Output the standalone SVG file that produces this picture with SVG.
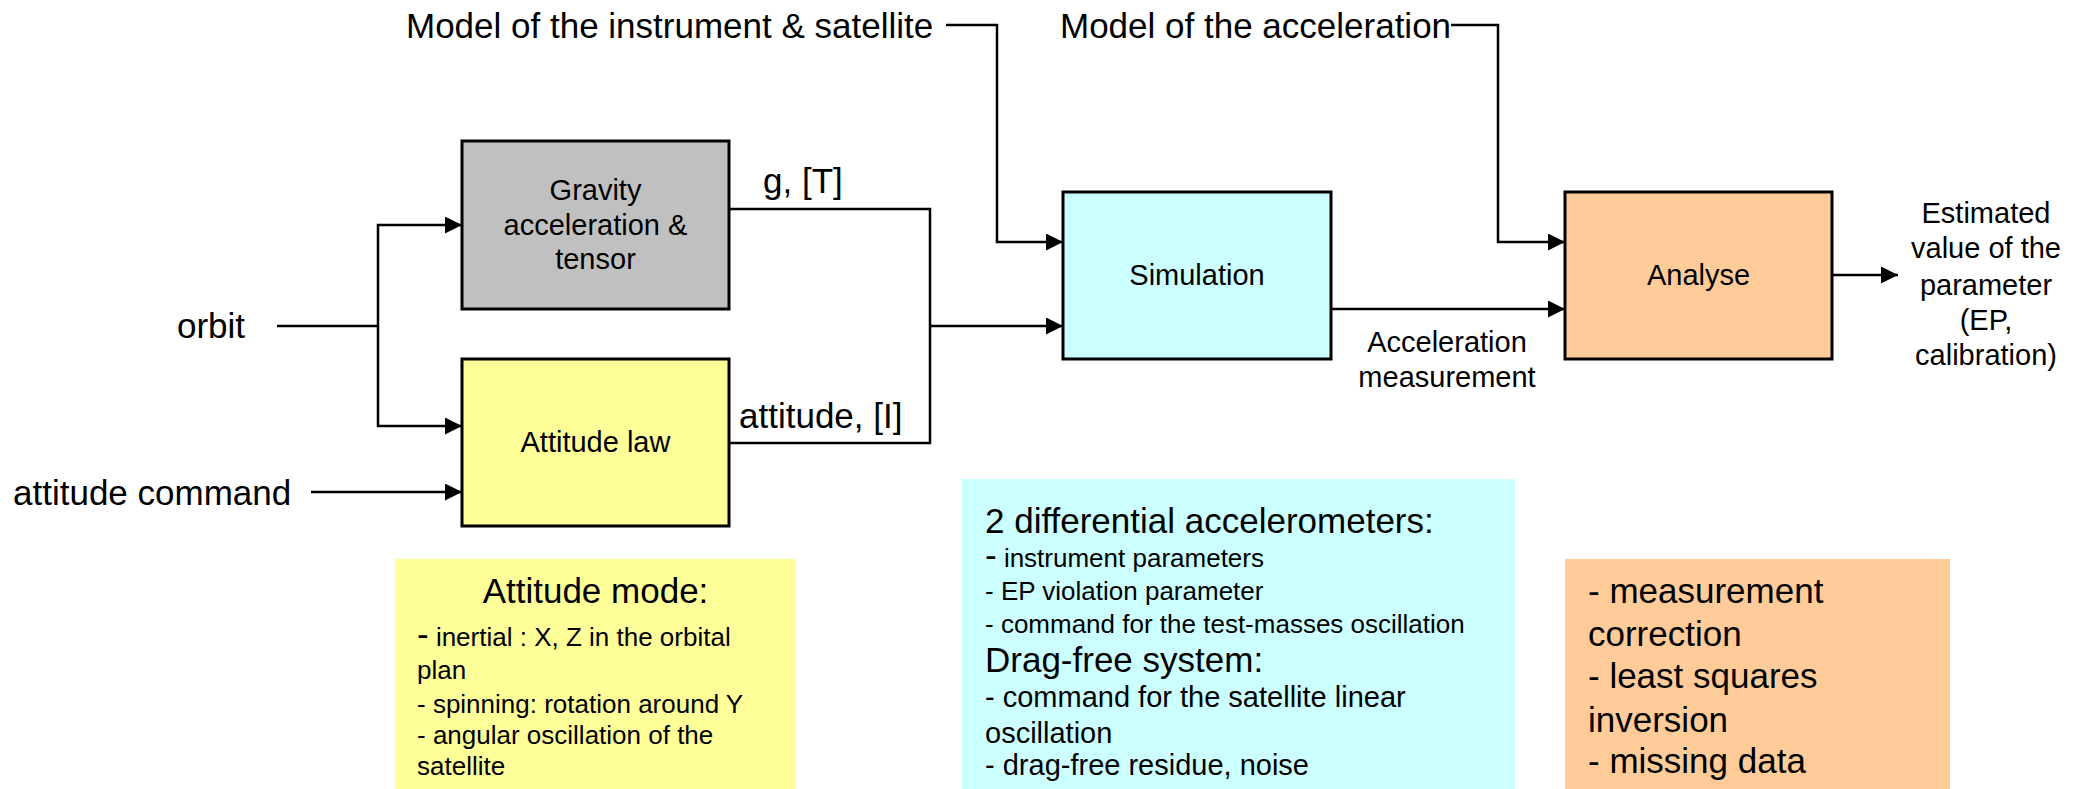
<svg xmlns="http://www.w3.org/2000/svg" width="2087" height="789" viewBox="0 0 2087 789">
<style>
text{font-family:"Liberation Sans",Arial,sans-serif;fill:#000}
.big{font-size:35px}
.mid{font-size:29px}
.sm{font-size:26px}
.box{stroke:#000;stroke-width:3}
.ln{fill:none;stroke:#000;stroke-width:2.5}
</style>
<defs>
<marker id="ah" viewBox="0 0 10 10" refX="10" refY="5" markerWidth="17" markerHeight="17" markerUnits="userSpaceOnUse" orient="auto">
<path d="M0,0 L10,5 L0,10 Z" fill="#000"/>
</marker>
</defs>
<rect width="2087" height="789" fill="#fff"/>

<g id="connectors">
<polyline class="ln" points="277,326 378,326"/>
<polyline class="ln" points="378,326 378,225 462,225" marker-end="url(#ah)"/>
<polyline class="ln" points="378,326 378,426 462,426" marker-end="url(#ah)"/>
<polyline class="ln" points="311,492 462,492" marker-end="url(#ah)"/>
<polyline class="ln" points="729,209 930,209 930,443 729,443"/>
<polyline class="ln" points="930,326 1063,326" marker-end="url(#ah)"/>
<polyline class="ln" points="946,25 997,25 997,242 1063,242" marker-end="url(#ah)"/>
<polyline class="ln" points="1451,25 1498,25 1498,242 1565,242" marker-end="url(#ah)"/>
<polyline class="ln" points="1331,309 1565,309" marker-end="url(#ah)"/>
<polyline class="ln" points="1832,275 1898,275" marker-end="url(#ah)"/>
</g>

<g id="gravity">
<rect class="box" x="462" y="141" width="267" height="168" fill="#C0C0C0"/>
<text class="mid" text-anchor="middle" x="595.5" y="200">Gravity</text>
<text class="mid" text-anchor="middle" x="595.5" y="235">acceleration &amp;</text>
<text class="mid" text-anchor="middle" x="595.5" y="269">tensor</text>
</g>

<g id="attitude-law">
<rect class="box" x="462" y="359" width="267" height="167" fill="#FFFF99"/>
<text class="mid" text-anchor="middle" x="595.5" y="452">Attitude law</text>
</g>

<g id="simulation">
<rect class="box" x="1063" y="192" width="268" height="167" fill="#CCFFFF"/>
<text class="mid" text-anchor="middle" x="1197" y="285">Simulation</text>
</g>

<g id="analyse">
<rect class="box" x="1565" y="192" width="267" height="167" fill="#FFCC99"/>
<text class="mid" text-anchor="middle" x="1698.5" y="285">Analyse</text>
</g>

<g id="labels">
<text class="big" x="406" y="38">Model of the instrument &amp; satellite</text>
<text class="big" x="1060" y="38">Model of the acceleration</text>
<text class="big" x="177" y="338">orbit</text>
<text class="big" x="13" y="505">attitude command</text>
<text class="big" x="763" y="193">g, [T]</text>
<text class="big" x="739" y="428">attitude, [I]</text>
<text class="mid" text-anchor="middle" x="1447" y="352">Acceleration</text>
<text class="mid" text-anchor="middle" x="1447" y="387">measurement</text>
<text class="mid" text-anchor="middle" x="1986" y="223">Estimated</text>
<text class="mid" text-anchor="middle" x="1986" y="258">value of the</text>
<text class="mid" text-anchor="middle" x="1986" y="295">parameter</text>
<text class="mid" text-anchor="middle" x="1986" y="330">(EP,</text>
<text class="mid" text-anchor="middle" x="1986" y="365">calibration)</text>
</g>

<g id="attitude-mode-note">
<rect x="395" y="559" width="401" height="230" fill="#FFFF99"/>
<text class="big" text-anchor="middle" x="595.5" y="603">Attitude mode:</text>
<text class="sm" x="417" y="646"><tspan font-size="35">-</tspan> inertial : X, Z in the orbital</text>
<text class="sm" x="417" y="679">plan</text>
<text class="sm" x="417" y="713">- spinning: rotation around Y</text>
<text class="sm" x="417" y="744">- angular oscillation of the</text>
<text class="sm" x="417" y="775">satellite</text>
</g>

<g id="accelerometer-note">
<rect x="962" y="479" width="553" height="310" fill="#CCFFFF"/>
<text class="big" x="985" y="533">2 differential accelerometers:</text>
<text class="sm" x="985" y="567"><tspan font-size="35">-</tspan> instrument parameters</text>
<text class="sm" x="985" y="600">- EP violation parameter</text>
<text class="sm" x="985" y="633">- command for the test-masses oscillation</text>
<text class="big" x="985" y="672">Drag-free system:</text>
<text class="mid" x="985" y="707">- command for the satellite linear</text>
<text class="mid" x="985" y="743">oscillation</text>
<text class="mid" x="985" y="775">- drag-free residue, noise</text>
</g>

<g id="analysis-note">
<rect x="1565" y="559" width="385" height="230" fill="#FFCC99"/>
<text class="big" x="1588" y="603">- measurement</text>
<text class="big" x="1588" y="646">correction</text>
<text class="big" x="1588" y="688">- least squares</text>
<text class="big" x="1588" y="732">inversion</text>
<text class="big" x="1588" y="773">- missing data</text>
</g>
</svg>
